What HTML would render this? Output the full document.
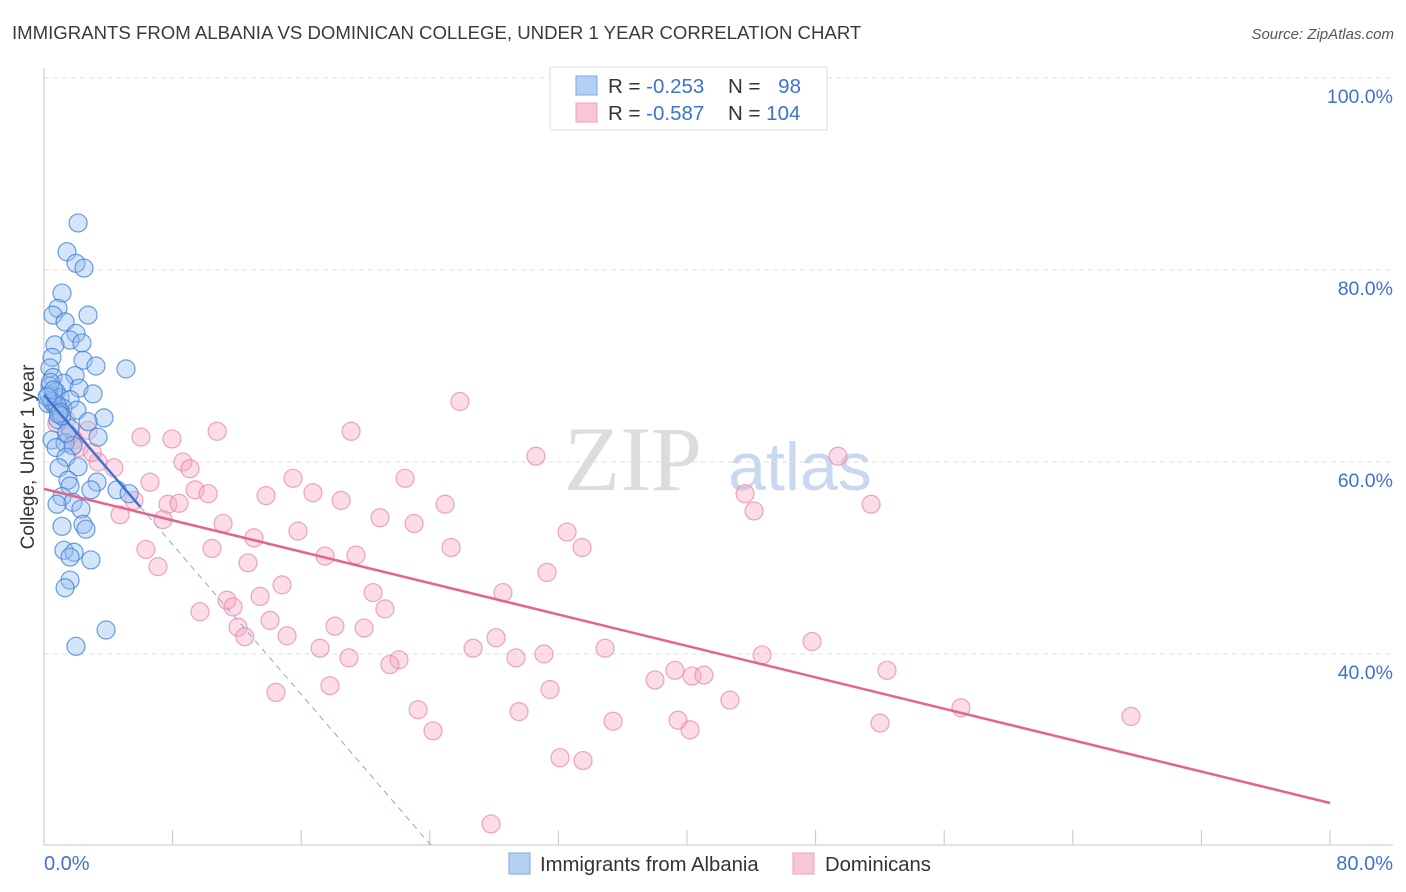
<!DOCTYPE html>
<html><head><meta charset="utf-8"><style>
body{margin:0;background:#fff;font-family:"Liberation Sans",sans-serif;}
svg{display:block}
</style></head><body>
<svg id="chart" width="1406" height="892" viewBox="0 0 1406 892" xmlns="http://www.w3.org/2000/svg">
<text x="12" y="39" font-size="18.6" fill="#3a3a3a">IMMIGRANTS FROM ALBANIA VS DOMINICAN COLLEGE, UNDER 1 YEAR CORRELATION CHART</text>
<text x="1394" y="39" font-size="15" fill="#555" font-style="italic" text-anchor="end">Source: ZipAtlas.com</text>
<g>
<text x="633" y="490" font-size="92" fill="#dcdcdc" font-family="Liberation Serif,serif" text-anchor="middle">ZIP</text>
<text x="800" y="490" font-size="68" fill="#c8d9ef" text-anchor="middle">atlas</text>
</g>
<g id="grid"></g>
<g id="axes"></g>
<g id="pts"></g>
<g id="lines"></g>
<text transform="translate(34,457) rotate(-90)" font-size="19" fill="#333" text-anchor="middle">College, Under 1 year</text>
<g>
<rect x="550" y="67" width="277" height="63" fill="#fff" stroke="#ddd"/>
<rect x="576" y="76" width="21" height="19" fill="#b6d0f4" stroke="#7aa7e6"/>
<rect x="576" y="103" width="21" height="19" fill="#f9c6d5" stroke="#eea0b8"/>
<text x="608" y="93" font-size="20.5" fill="#333">R = <tspan fill="#3d73cf">-0.253</tspan></text>
<text x="728" y="93" font-size="20.5" fill="#333">N = <tspan fill="#3d73cf" dx="12">98</tspan></text>
<text x="608" y="120" font-size="20.5" fill="#333">R = <tspan fill="#3d73cf">-0.587</tspan></text>
<text x="728" y="120" font-size="20.5" fill="#333">N = <tspan fill="#3d73cf">104</tspan></text>
</g>
<g>
<rect x="509" y="853" width="21" height="21" fill="#b6d0f4" stroke="#7aa7e6"/>
<text x="540" y="871" font-size="20.3" fill="#333">Immigrants from Albania</text>
<rect x="793" y="853" width="21" height="21" fill="#f9c6d5" stroke="#eea0b8"/>
<text x="825" y="871" font-size="20.3" fill="#333">Dominicans</text>
</g>
</svg>
<script>
const yTicks=[40,60,80,100];
const yTickLabels=["40.0%","60.0%","80.0%","100.0%"];
const xTicks=[0,8,16,24,32,40,48,56,64,72,80];
const xEndLabels=["0.0%","80.0%"];
const blueX=[2.12,1.43,1.99,2.49,1.12,0.87,0.56,2.74,1.31,1.99,1.62,0.68,2.36,0.50,2.43,3.23,5.10,0.37,1.93,0.56,1.24,0.37,2.18,0.75,3.05,1.00,1.62,0.25,0.68,1.18,2.05,3.73,0.87,2.74,1.62,3.36,0.50,1.31,1.80,0.75,1.37,2.12,0.93,1.49,3.30,1.62,4.54,5.29,2.92,1.12,1.80,0.81,2.30,1.12,2.43,2.61,1.24,1.87,1.62,2.92,1.62,1.31,3.86,1.99,0.3,0.5,0.8,1.0,0.4,0.6,1.1,1.4,0.2,0.9];
const blueY=[84.9,81.9,80.7,80.2,77.6,76.0,75.3,75.3,74.6,73.4,72.7,72.2,72.4,70.9,70.6,70.0,69.7,69.8,69.0,68.8,68.2,67.9,67.7,67.3,67.1,66.7,66.5,66.1,65.9,65.6,65.4,64.6,64.4,64.2,63.5,62.6,62.3,62.0,61.7,61.5,60.5,59.5,59.4,58.1,57.9,57.5,57.1,56.7,57.1,56.4,55.8,55.6,55.1,53.3,53.5,53.0,50.8,50.6,50.1,49.8,47.7,46.9,42.5,40.8,67.0,66.3,66.0,65.2,68.3,67.5,64.8,63.0,66.8,65.0];
const pinkX=[25.87,10.77,19.10,6.03,7.96,49.39,30.60,8.64,9.08,4.35,3.36,6.59,15.49,22.46,9.40,10.21,13.81,16.73,18.48,43.61,5.60,7.71,8.40,24.95,51.45,44.17,4.73,20.90,23.02,7.40,11.14,15.80,32.54,13.06,33.47,25.32,6.34,10.45,17.48,19.41,12.69,7.09,31.29,14.81,28.55,20.47,11.38,13.44,11.76,21.21,9.70,14.06,12.07,18.10,19.91,12.49,15.12,28.12,47.78,17.17,26.69,34.90,31.10,44.67,18.97,22.08,29.36,21.52,39.25,52.44,40.31,41.05,38.01,14.43,17.79,31.48,42.67,23.27,57.04,29.55,67.62,35.40,39.44,52.01,24.20,40.19,32.10,33.53,27.81,1.0,1.37,2.74,1.87,2.2,0.8,1.6,3.0];
const pinkY=[66.3,63.2,63.2,62.6,62.4,60.6,60.6,60.0,59.3,59.4,60.0,57.9,58.3,58.3,57.1,56.7,56.5,56.8,56.0,56.7,56.0,55.6,55.7,55.6,55.6,54.9,54.5,54.2,53.6,54.0,53.6,52.8,52.7,52.1,51.1,51.1,50.9,51.0,50.2,50.3,49.5,49.1,48.5,47.2,46.4,46.4,45.6,46.0,44.9,44.7,44.4,43.5,42.8,42.9,42.7,41.8,41.9,41.7,41.3,40.6,40.6,40.6,40.0,39.9,39.6,39.4,39.6,38.9,38.3,38.3,37.7,37.8,37.3,36.0,36.7,36.3,35.2,34.2,34.4,34.0,33.5,33.0,33.1,32.8,32.0,32.1,29.2,28.9,22.3,65.4,64.4,63.3,62.3,61.5,64.0,62.8,61.0];
const blueFit=[67.0,-1.95];
const pinkFit=[57.2,-0.409];
const NS="http://www.w3.org/2000/svg";
const X=v=>44+v*1286/80, Y=v=>1038-v*9.6;
function mk(t,a,p){const e=document.createElementNS(NS,t);for(const k in a)e.setAttribute(k,a[k]);p.appendChild(e);return e;}
const grid=document.getElementById('grid'),axes=document.getElementById('axes'),pts=document.getElementById('pts'),lines=document.getElementById('lines');
yTicks.forEach((t,i)=>{
 const l=mk('line',{x1:44,x2:1393,y1:Y(t),y2:Y(t),stroke:'#e0e0e0','stroke-dasharray':'5,4'},grid);
 
 
 const tx=mk('text',{x:1393,y:Y(t)+25,'font-size':19.5,fill:'#3d73cf','text-anchor':'end'},grid);
 tx.textContent=yTickLabels[i];
 
 
});
const ya=mk('line',{x1:44,x2:44,y1:68,y2:845,stroke:'#c4c4c4'},axes);


const xa=mk('line',{x1:44,x2:1393,y1:845,y2:845,stroke:'#c4c4c4'},axes);


xTicks.forEach(t=>{
 const l=mk('line',{x1:X(t),x2:X(t),y1:830,y2:845,stroke:'#c4c4c4'},axes);
 
 
});
const x0=mk('text',{x:44,y:870,'font-size':20,fill:'#3d73cf'},axes);x0.textContent=xEndLabels[0];


const x1=mk('text',{x:1393,y:870,'font-size':20,fill:'#3d73cf','text-anchor':'end'},axes);x1.textContent=xEndLabels[1];


pinkX.forEach((v,i)=>{
 const c=mk('circle',{cx:X(v),cy:Y(pinkY[i]),r:9,fill:'rgba(244,168,194,0.4)',stroke:'rgba(232,130,165,0.7)','stroke-width':1.2},pts);
 
 
});
blueX.forEach((v,i)=>{
 const c=mk('circle',{cx:X(v),cy:Y(blueY[i]),r:9,fill:'rgba(150,190,240,0.4)',stroke:'rgba(60,125,215,0.75)','stroke-width':1.2},pts);
 
 
});
const bEnd=6.0, bZero=(20.1-blueFit[0])/blueFit[1];
const bl=mk('line',{x1:X(0),y1:Y(blueFit[0]),x2:X(bEnd),y2:Y(blueFit[0]+blueFit[1]*bEnd),stroke:'#3d73cf','stroke-width':2.5},lines);


const bd=mk('line',{x1:X(bEnd),y1:Y(blueFit[0]+blueFit[1]*bEnd),x2:X(bZero),y2:Y(blueFit[0]+blueFit[1]*bZero),stroke:'#8aa8d8','stroke-width':1,'stroke-dasharray':'6,5'},lines);


const pl=mk('line',{x1:X(0),y1:Y(pinkFit[0]),x2:X(80),y2:Y(pinkFit[0]+pinkFit[1]*80),stroke:'#e4648f','stroke-width':2.5},lines);


</script>
</body></html>
